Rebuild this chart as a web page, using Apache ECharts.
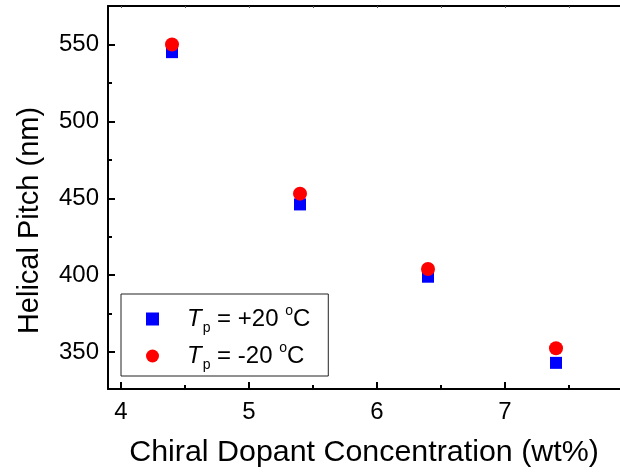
<!DOCTYPE html>
<html>
<head>
<meta charset="utf-8">
<script src="https://cdn.jsdelivr.net/npm/echarts@6/dist/echarts.min.js"></script>
<style>
html,body{margin:0;padding:0;background:#fff;}
#c{width:620px;height:474px;}
</style>
</head>
<body>
<div id="c"></div>
<script>
// ---- data ----
var concentration = [4.4, 5.4, 6.4, 7.4];           // wt%
var pitchPlus20 = [545, 446, 399, 343];            // Tp = +20 °C (nm)
var pitchMinus20 = [550, 453, 404, 352.5];         // Tp = -20 °C (nm)
var xTickLabels = [4, 5, 6, 7];
var xMinorTicks = [4.5, 5.5, 6.5, 7.5];
var xTopTicks = [4, 4.5, 5, 5.5, 6, 6.5, 7, 7.5];
var yTickLabels = [350, 400, 450, 500, 550];
var yMinorTicks = [375, 425, 475, 525];
var seriesNames = ['Tp = +20 °C', 'Tp = -20 °C'];
var legendSign = ['+20', '-20'];

var FONT = '"Liberation Sans", Arial, Helvetica, sans-serif';

function pairs(xs, ys) { return xs.map(function (x, i) { return [x, ys[i]]; }); }

var chart = echarts.init(document.getElementById('c'), null, { renderer: 'canvas' });

var xMin = 3.9, xMax = 7.9, yMin = 326, yMax = 575;

var option = {
  animation: false,
  backgroundColor: '#fff',
  textStyle: { fontFamily: FONT },
  grid: { left: 108, top: 6, right: -8, bottom: 85, containLabel: false },
  xAxis: [
    {
      type: 'value', position: 'bottom', min: xMin, max: xMax,
      name: 'Chiral Dopant Concentration (wt%)', nameLocation: 'middle', nameGap: 49,
      nameTextStyle: { fontSize: 30.4, color: '#000', fontFamily: FONT },
      axisLine: { show: true, onZero: false, lineStyle: { color: '#000', width: 2 } },
      axisTick: { show: true, inside: true, length: 7, lineStyle: { width: 2, color: '#000' }, customValues: xTickLabels },
      axisLabel: { show: true, margin: 11, fontSize: 24, color: '#000', fontFamily: FONT, customValues: xTickLabels },
      splitLine: { show: false }
    },
    {
      type: 'value', position: 'bottom', min: xMin, max: xMax, gridIndex: 0,
      axisLine: { show: false },
      axisTick: { show: true, inside: true, length: 4, lineStyle: { width: 2, color: '#000' }, customValues: xMinorTicks },
      axisLabel: { show: false },
      splitLine: { show: false }
    },
    {
      type: 'value', position: 'top', min: xMin, max: xMax, gridIndex: 0,
      axisLine: { show: true, onZero: false, lineStyle: { color: '#000', width: 2 } },
      axisTick: { show: true, inside: true, length: 2, lineStyle: { width: 1, color: '#555' }, customValues: xTopTicks },
      axisLabel: { show: false },
      splitLine: { show: false }
    }
  ],
  yAxis: [
    {
      type: 'value', position: 'left', min: yMin, max: yMax,
      name: 'Helical Pitch (nm)', nameLocation: 'middle', nameGap: 64,
      nameTextStyle: { fontSize: 29, color: '#000', fontFamily: FONT, padding: [0, 46, 0, 0] },
      axisLine: { show: true, onZero: false, lineStyle: { color: '#000', width: 2 } },
      axisTick: { show: true, inside: true, length: 7, lineStyle: { width: 2, color: '#000' }, customValues: yTickLabels },
      axisLabel: { show: true, margin: 9, fontSize: 24, color: '#000', fontFamily: FONT, customValues: yTickLabels },
      splitLine: { show: false }
    },
    {
      type: 'value', position: 'left', min: yMin, max: yMax, gridIndex: 0,
      axisLine: { show: false },
      axisTick: { show: true, inside: true, length: 4, lineStyle: { width: 2, color: '#000' }, customValues: yMinorTicks },
      axisLabel: { show: false },
      splitLine: { show: false }
    }
  ],
  legend: {
    orient: 'vertical', left: 121, top: 294,
    data: seriesNames,
    borderColor: '#222', borderWidth: 1, borderRadius: 0,
    padding: [10, 18, 4, 25],
    itemWidth: 13, itemHeight: 13, itemGap: 6,
    selectedMode: false,
    formatter: function (name) {
      var i = seriesNames.indexOf(name);
      return '{it|T}{sub|p}{n| = ' + legendSign[i] + ' }{sup|o}{n|C}';
    },
    textStyle: {
      color: '#000', fontFamily: FONT, fontSize: 24, padding: [0, 0, 0, 23],
      rich: {
        n: { fontSize: 24, fontFamily: FONT, color: '#000', lineHeight: 33 },
        it: { fontSize: 24, fontFamily: FONT, fontStyle: 'italic', color: '#000', lineHeight: 33 },
        sub: { fontSize: 14, fontFamily: FONT, color: '#000', padding: [18, 0, 0, 1] },
        sup: { fontSize: 14, fontFamily: FONT, color: '#000', padding: [0, 0, 16, 0] }
      }
    }
  },
  series: [
    {
      name: seriesNames[0], type: 'scatter', xAxisIndex: 0, yAxisIndex: 0,
      symbol: 'rect', symbolSize: 12,
      itemStyle: { color: '#0000ff', opacity: 1 },
      data: pairs(concentration, pitchPlus20), z: 2
    },
    {
      name: seriesNames[1], type: 'scatter', xAxisIndex: 0, yAxisIndex: 0,
      symbol: 'circle', symbolSize: 14,
      itemStyle: { color: '#ff0000', opacity: 1 },
      data: pairs(concentration, pitchMinus20), z: 3
    }
  ]
};
chart.setOption(option);
</script>
</body>
</html>
